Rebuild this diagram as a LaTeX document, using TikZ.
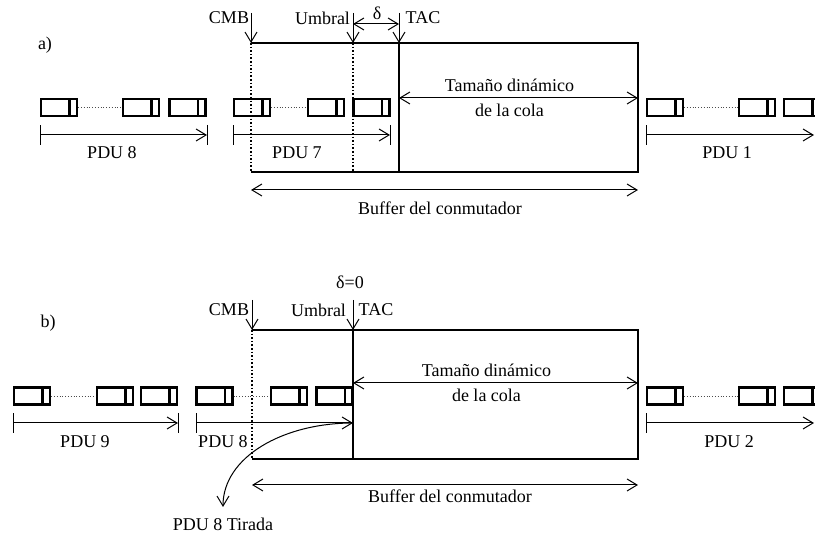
\documentclass[tikz,border=0pt]{standalone}
\usepackage{fontspec}
\setmainfont{Liberation Serif}
\usetikzlibrary{arrows.meta,positioning}
\tikzset{
    pdu/.style={
           rectangle,
           draw=black, line width=1.1pt,
           minimum width=18pt,
           minimum height=8.5pt,
           inner sep=0pt,
           path picture={\draw[line width=1.1pt]
               ([xshift=-3.75pt]path picture bounding box.north east) --
               ([xshift=-3.75pt]path picture bounding box.south east);},
           },
    linkdots/.style={densely dotted, line width=0.4pt, black!70},
    cutline/.style={densely dotted, line width=0.8pt},
    wall/.style={line width=1pt},
    ptr/.style={line width=0.5pt, -{Straight Barb[length=5pt,width=6pt]}},
    dimline/.style={line width=0.5pt,
           {Straight Barb[length=5pt,width=6pt]}-{Straight Barb[length=5pt,width=6pt]}},
    pduspan/.style={line width=0.5pt,
           {Bar[width=10pt]}-{Straight Barb[length=5pt,width=6pt]}},
    pdutick/.style={line width=0.5pt},
}

\begin{document}
\begin{tikzpicture}[x=0.5pt, y=-0.5pt, font=\fontsize{9}{12.5}\selectfont]
    \useasboundingbox (0,0) rectangle (815,533);

    % ---------------- a) ----------------
    \node (la) at (45,45) {a)};

    % cells of the PDUs
    \foreach \n/\x in {a81/59, a82/141, a83/187.5, a71/252, a72/326, a73/371.5,
                       a11/665, a12/757, a13/802}
        \node[pdu] (\n) at (\x,107.5) {};
    \draw[linkdots] (a81) -- (a82);
    \draw[linkdots] (a71) -- (a72);
    \draw[linkdots] (a11) -- (a12);

    % switch buffer
    \coordinate (cmbA) at (251,43);
    \coordinate (umbA) at (353,43);
    \coordinate (tacA) at (399,43);
    \coordinate (neA) at (638,43);
    \coordinate (seA) at (638,172);
    \coordinate (swA) at (251,172);
    \draw[wall] (cmbA) -- (neA) -- (seA) -- (swA);
    \draw[cutline] (cmbA) -- (swA);
    \draw[cutline] (umbA) -- (umbA |- swA);
    \draw[wall, line width=1.4pt] (tacA) -- (tacA |- swA);

    % pointers
    \coordinate (cmbAt) at (251,13);
    \coordinate (umbAt) at (353,13);
    \coordinate (tacAt) at (399,13);
    \node (cmbAl) at (229,18) {CMB};
    \node (umbAl) at (322.5,18) {Umbral};
    \node (tacAl) at (423,18) {TAC};
    \draw[ptr] (cmbAt) -- (cmbA);
    \draw[ptr] (umbAt) -- (umbA);
    \draw[ptr] (tacAt) -- (tacA);

    \coordinate (dAl) at (353,24);
    \coordinate (dAr) at (399,24);
    \draw[dimline] (dAl) -- (dAr);
    \node (deltaA) at (377,13) {δ};

    % queue size and buffer size
    \coordinate (qAl) at (399,98);
    \coordinate (qAr) at (638,98);
    \draw[dimline] (qAl) -- node[xshift=-4.5pt, align=center]
        {Tamaño dinámico\\de la cola} (qAr);

    \coordinate (bAl) at (251,190);
    \coordinate (bAr) at (638,190);
    \draw[dimline] (bAl) -- (bAr);
    \node (bufAl) at (440,208) {Buffer del conmutador};

    % PDU lengths
    \coordinate (sa8s) at (40,135);
    \coordinate (sa8e) at (207,135);
    \coordinate (sa7s) at (233,135);
    \coordinate (sa7e) at (390,135);
    \coordinate (sa1s) at (646,135);
    \coordinate (sa1e) at (814,135);
    \draw[pduspan] (sa8s) -- (sa8e);
    \draw[pduspan] (sa7s) -- (sa7e);
    \draw[pduspan] (sa1s) -- (sa1e);
    \draw[pdutick] (sa8e) ++(0,-10) -- ++(0,20);
    \draw[pdutick] (sa7e) ++(0,-10) -- ++(0,20);
    \node (pa8) at (112,153) {PDU 8};
    \node (pa7) at (297,153) {PDU 7};
    \node (pa1) at (727,153) {PDU 1};

    % ---------------- b) ----------------
    \node (lb) at (48,323) {b)};

    \foreach \n/\x in {b91/32, b92/115, b93/159, b81/214.5, b82/289, b83/334.5,
                       b21/665, b22/757, b23/802}
        \node[pdu] (\n) at (\x,396) {};
    \draw[linkdots] (b91) -- (b92);
    \draw[linkdots] (b81) -- (b82);
    \draw[linkdots] (b21) -- (b22);

    \coordinate (cmbB) at (252,330);
    \coordinate (tacB) at (353,330);
    \coordinate (neB) at (638,330);
    \coordinate (seB) at (638,459);
    \coordinate (swB) at (252,459);
    \draw[wall] (cmbB) -- (neB) -- (seB) -- (swB);
    \draw[cutline] (cmbB) -- (swB);
    \draw[wall, line width=1.1pt] (tacB) -- (tacB |- swB);

    \coordinate (cmbBt) at (252,300);
    \coordinate (tacBt) at (353,300);
    \node (cmbBl) at (229,310) {CMB};
    \node (umbBl) at (318.5,310) {Umbral};
    \node (tacBl) at (376,310) {TAC};
    \node (deltaB) at (350,282) {δ=0};
    \draw[ptr] (cmbBt) -- (cmbB);
    \draw[ptr] (tacBt) -- (tacB);

    \coordinate (qBl) at (353,383);
    \coordinate (qBr) at (638,383);
    \draw[dimline] (qBl) -- node[xshift=-4.5pt, align=center]
        {Tamaño dinámico\\de la cola} (qBr);

    \coordinate (bBl) at (252,485);
    \coordinate (bBr) at (638,485);
    \draw[dimline] (bBl) -- (bBr);
    \node (bufBl) at (450,496) {Buffer del conmutador};

    \coordinate (sb9s) at (13,423);
    \coordinate (sb9e) at (178,423);
    \coordinate (sb8s) at (196,423);
    \coordinate (sb8e) at (353,423);
    \coordinate (sb2s) at (646,423);
    \coordinate (sb2e) at (814,423);
    \draw[pduspan] (sb9s) -- (sb9e);
    \draw[pduspan] (sb8s) -- (sb8e);
    \draw[pduspan] (sb2s) -- (sb2e);
    \draw[pdutick] (sb9e) ++(0,-10) -- ++(0,20);
    \node (pb9) at (85,442) {PDU 9};
    \node (pb8) at (223,442) {PDU 8};
    \node (pb2) at (729,442) {PDU 2};

    % dropped PDU
    \coordinate (drop) at (223,507);
    \draw[ptr] (sb8e) .. controls +(-70,0) and +(0,-50) .. (drop);
    \node (dropl) at (223,524) {PDU 8 Tirada};
\end{tikzpicture}
\end{document}
